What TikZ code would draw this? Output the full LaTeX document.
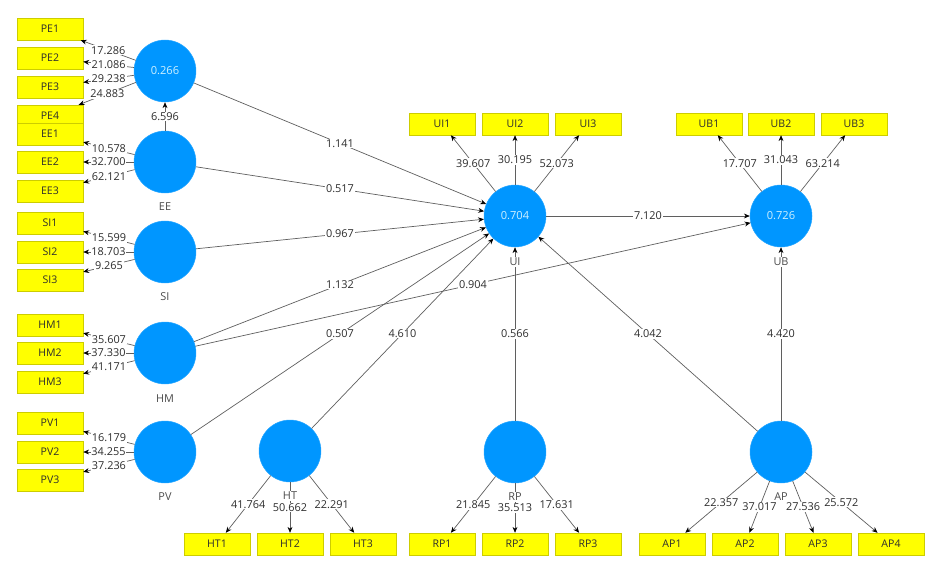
\documentclass[tikz,border=0pt]{standalone}
\usepackage{fontspec}
\setmainfont{Open Sans}
\usetikzlibrary{arrows.meta}
\definecolor{lvblue}{RGB}{0,150,255}
\definecolor{lvtext}{RGB}{205,240,255}
\definecolor{mvyellow}{RGB}{255,255,0}
\definecolor{mvedge}{RGB}{205,205,0}
\definecolor{linkgray}{RGB}{95,95,95}
\definecolor{numgray}{RGB}{45,45,45}
\begin{document}
\begin{tikzpicture}[x=0.03cm,y=-0.03cm,
  lv/.style={circle,fill=lvblue,draw=lvblue!85!white,minimum size=1.86cm,inner sep=0pt,text=lvtext,font=\fontsize{9.5}{11}\selectfont},
  mv/.style={rectangle,fill=mvyellow,draw=mvedge,minimum width=1.98cm,minimum height=0.66cm,inner sep=0pt,text=numgray,font=\fontsize{9}{10}\selectfont},
  coef/.style={fill=white,inner sep=0.8pt,text=numgray,font=\fontsize{9.3}{10}\selectfont},
  lvname/.style={fill=white,inner sep=0.8pt,text=numgray!85,font=\fontsize{9.3}{10}\selectfont},
  link/.style={draw=linkgray,line width=0.6pt,-{Stealth[length=5pt,width=4.2pt,color=black]}}]
\useasboundingbox (0,0) rectangle (937,567);
\node[lv] (PE) at (165,71) {0.266};
\node[lv] (EE) at (165,162) {};
\node[lv] (SI) at (165,252) {};
\node[lv] (HM) at (165,353) {};
\node[lv] (PV) at (165,452) {};
\node[lv] (HT) at (290,451) {};
\node[lv] (RP) at (515,452) {};
\node[lv] (AP) at (781,452) {};
\node[lv] (UI) at (515,216) {0.704};
\node[lv] (UB) at (781,216) {0.726};
\node[mv] (PE1) at (50,29) {PE1};
\node[mv] (PE2) at (50,58) {PE2};
\node[mv] (PE3) at (50,87) {PE3};
\node[mv] (PE4) at (50,116) {PE4};
\node[mv] (EE1) at (50,134) {EE1};
\node[mv] (EE2) at (50,162) {EE2};
\node[mv] (EE3) at (50,191) {EE3};
\node[mv] (SI1) at (50,223) {SI1};
\node[mv] (SI2) at (50,252) {SI2};
\node[mv] (SI3) at (50,280) {SI3};
\node[mv] (HM1) at (50,325) {HM1};
\node[mv] (HM2) at (50,353) {HM2};
\node[mv] (HM3) at (50,382) {HM3};
\node[mv] (PV1) at (50,423) {PV1};
\node[mv] (PV2) at (50,452) {PV2};
\node[mv] (PV3) at (50,480) {PV3};
\node[mv] (HT1) at (217,544) {HT1};
\node[mv] (HT2) at (290,544) {HT2};
\node[mv] (HT3) at (363,544) {HT3};
\node[mv] (RP1) at (442,544) {RP1};
\node[mv] (RP2) at (515,544) {RP2};
\node[mv] (RP3) at (588,544) {RP3};
\node[mv] (AP1) at (672,544) {AP1};
\node[mv] (AP2) at (745,544) {AP2};
\node[mv] (AP3) at (818,544) {AP3};
\node[mv] (AP4) at (891,544) {AP4};
\node[mv] (UI1) at (442,124) {UI1};
\node[mv] (UI2) at (515,124) {UI2};
\node[mv] (UI3) at (588,124) {UI3};
\node[mv] (UB1) at (709,124) {UB1};
\node[mv] (UB2) at (781,124) {UB2};
\node[mv] (UB3) at (854,124) {UB3};
\draw[link] (PE) -- node[coef] {17.286} (PE1);
\draw[link] (PE) -- node[coef] {21.086} (PE2);
\draw[link] (PE) -- node[coef] {29.238} (PE3);
\draw[link] (PE) -- node[coef] {24.883} (PE4);
\draw[link] (EE) -- node[coef] {10.578} (EE1);
\draw[link] (EE) -- node[coef] {32.700} (EE2);
\draw[link] (EE) -- node[coef] {62.121} (EE3);
\draw[link] (SI) -- node[coef] {15.599} (SI1);
\draw[link] (SI) -- node[coef] {18.703} (SI2);
\draw[link] (SI) -- node[coef] {9.265} (SI3);
\draw[link] (HM) -- node[coef] {35.607} (HM1);
\draw[link] (HM) -- node[coef] {37.330} (HM2);
\draw[link] (HM) -- node[coef] {41.171} (HM3);
\draw[link] (PV) -- node[coef] {16.179} (PV1);
\draw[link] (PV) -- node[coef] {34.255} (PV2);
\draw[link] (PV) -- node[coef] {37.236} (PV3);
\draw[link] (HT) -- node[coef] {41.764} (HT1);
\draw[link] (HT) -- node[coef] {50.662} (HT2);
\draw[link] (HT) -- node[coef] {22.291} (HT3);
\draw[link] (RP) -- node[coef] {21.845} (RP1);
\draw[link] (RP) -- node[coef] {35.513} (RP2);
\draw[link] (RP) -- node[coef] {17.631} (RP3);
\draw[link] (AP) -- node[coef] {22.357} (AP1);
\draw[link] (AP) -- node[coef] {37.017} (AP2);
\draw[link] (AP) -- node[coef] {27.536} (AP3);
\draw[link] (AP) -- node[coef] {25.572} (AP4);
\draw[link] (UI) -- node[coef] {39.607} (UI1);
\draw[link] (UI) -- node[coef] {30.195} (UI2);
\draw[link] (UI) -- node[coef] {52.073} (UI3);
\draw[link] (UB) -- node[coef] {17.707} (UB1);
\draw[link] (UB) -- node[coef] {31.043} (UB2);
\draw[link] (UB) -- node[coef] {63.214} (UB3);
\draw[link] (EE) -- node[coef] {6.596} (PE);
\draw[link] (PE) -- node[coef] {1.141} (UI);
\draw[link] (EE) -- node[coef] {0.517} (UI);
\draw[link] (SI) -- node[coef] {0.967} (UI);
\draw[link] (HM) -- node[coef] {1.132} (UI);
\draw[link] (HM) -- node[coef] {0.904} (UB);
\draw[link] (PV) -- node[coef] {0.507} (UI);
\draw[link] (HT) -- node[coef] {4.610} (UI);
\draw[link] (RP) -- node[coef] {0.566} (UI);
\draw[link] (AP) -- node[coef] {4.042} (UI);
\draw[link] (AP) -- node[coef] {4.420} (UB);
\draw[link] (UI) -- node[coef] {7.120} (UB);
\node[lvname] (EEname) at (165,207) {EE};
\node[lvname] (SIname) at (165,297) {SI};
\node[lvname] (HMname) at (165,399) {HM};
\node[lvname] (PVname) at (165,497) {PV};
\node[lvname] (HTname) at (290,496) {HT};
\node[lvname] (RPname) at (515,497) {RP};
\node[lvname] (APname) at (781,497) {AP};
\node[lvname] (UIname) at (515,262) {UI};
\node[lvname] (UBname) at (781,262) {UB};
\end{tikzpicture}
\end{document}
